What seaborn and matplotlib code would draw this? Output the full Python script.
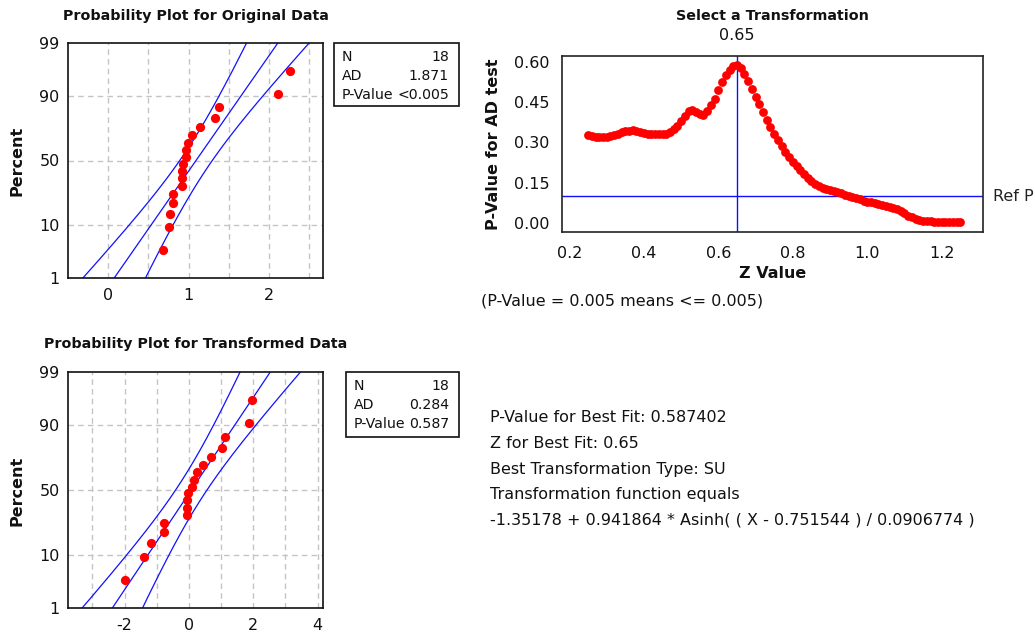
import numpy as np
import pandas as pd
import matplotlib
matplotlib.use("Agg")
import matplotlib.pyplot as plt
from matplotlib.patches import Rectangle
import seaborn as sns
from statistics import NormalDist

# ---------------- data ----------------
original_data = [0.684, 0.750, 0.762, 0.807, 0.807, 0.914, 0.914, 0.914, 0.931,
                 0.964, 0.964, 0.988, 1.038, 1.145, 1.326, 1.371, 2.105, 2.261]
transformed_data = [-1.98, -1.40, -1.18, -0.79, -0.79, -0.05, -0.05, -0.05, -0.02,
                    0.11, 0.16, 0.25, 0.43, 0.69, 1.04, 1.12, 1.88, 1.97]
orig_stats = [("N", "18"), ("AD", "1.871"), ("P-Value", "<0.005")]
trans_stats = [("N", "18"), ("AD", "0.284"), ("P-Value", "0.587")]

z_values = np.round(np.arange(0.25, 1.2501, 0.01), 2)
p_values = [0.328, 0.324, 0.321, 0.319, 0.319, 0.321, 0.325, 0.329, 0.333, 0.337,
            0.341, 0.344, 0.345, 0.344, 0.340, 0.336, 0.333, 0.331, 0.330, 0.330,
            0.330, 0.333, 0.340, 0.348, 0.360, 0.378, 0.397, 0.418, 0.422, 0.413,
            0.404, 0.402, 0.418, 0.440, 0.462, 0.495, 0.525, 0.552, 0.568, 0.582,
            0.587, 0.575, 0.555, 0.528, 0.497, 0.468, 0.442, 0.412, 0.384, 0.357,
            0.332, 0.308, 0.285, 0.264, 0.245, 0.228, 0.212, 0.197, 0.182, 0.167,
            0.155, 0.146, 0.138, 0.132, 0.127, 0.124, 0.120, 0.116, 0.111, 0.106,
            0.101, 0.097, 0.092, 0.088, 0.084, 0.080, 0.077, 0.074, 0.071, 0.067,
            0.063, 0.060, 0.057, 0.053, 0.045, 0.036, 0.028, 0.021, 0.015, 0.011,
            0.009, 0.008, 0.007, 0.006, 0.005, 0.005, 0.005, 0.005, 0.005, 0.005,
            0.005]
best_z = 0.65
ref_p = 0.10
percent_ticks = [1, 10, 50, 90, 99]

info_lines = ["P-Value for Best Fit: 0.587402",
              "Z for Best Fit: 0.65",
              "Best Transformation Type: SU",
              "Transformation function equals",
              "-1.35178 + 0.941864 * Asinh( ( X - 0.751544 ) / 0.0906774 )"]

# ---------------- style ----------------
sns.set_style("white")
plt.rcParams["font.family"] = ["DejaVu Sans"]
plt.rcParams["axes.linewidth"] = 1.2

W, H = 1035, 634
fig = plt.figure(figsize=(W / 100, H / 100), dpi=100)


def fx(x):
    return x / W


def fy(y):
    return 1 - y / H


def add_ax(l, t, r, b):
    return fig.add_axes([fx(l), fy(b), (r - l) / W, (b - t) / H])


nd = NormalDist()
GRID = dict(color="#c4c4c4", linestyle=(0, (4, 3)), linewidth=1.0)
TICKFS = 11.5
TXT = "#111111"


def prob_plot(ax, data, xlim, grid_x, label_x):
    data = np.sort(np.asarray(data, dtype=float))
    n = len(data)
    ranks = np.arange(1, n + 1)
    zq = np.array([nd.inv_cdf((i - 0.3) / (n + 0.4)) for i in ranks])
    mu, sd = data.mean(), data.std(ddof=1)

    zlo, zhi = nd.inv_cdf(0.01), nd.inv_cdf(0.99)
    for gx in grid_x:
        ax.axvline(gx, zorder=0, **GRID)
    for p in [10, 50, 90]:
        ax.axhline(nd.inv_cdf(p / 100), zorder=0, **GRID)

    zz = np.linspace(zlo - 0.3, zhi + 0.3, 200)
    fit = mu + zz * sd
    half = 1.96 * sd * np.sqrt(1 / n + zz ** 2 / (2 * n))
    lines = pd.DataFrame({"z": np.tile(zz, 3),
                          "x": np.concatenate([fit, fit - half, fit + half]),
                          "which": np.repeat(["fit", "lo", "hi"], len(zz))})
    sns.lineplot(data=lines, x="x", y="z", units="which", estimator=None, sort=False,
                 color="#1010ff", linewidth=0.9, ax=ax, legend=False)
    pts = pd.DataFrame({"x": data, "z": zq})
    sns.scatterplot(data=pts, x="x", y="z", color="#ff0000", s=44, linewidth=0,
                    ax=ax, zorder=5, legend=False)

    ax.set_xlim(*xlim)
    ax.set_ylim(zlo, zhi)
    ax.set_yticks([nd.inv_cdf(p / 100) for p in percent_ticks])
    ax.set_yticklabels([str(p) for p in percent_ticks])
    ax.set_xticks(label_x)
    ax.set_xticklabels([str(v) for v in label_x])
    ax.tick_params(axis="both", length=0, labelsize=TICKFS, colors=TXT)
    ax.tick_params(axis="x", pad=7)
    ax.tick_params(axis="y", pad=6)
    ax.set_xlabel("")
    ax.set_ylabel("")
    for s in ax.spines.values():
        s.set_color(TXT)
        s.set_linewidth(1.2)


# ---- top-left ----
ax1 = add_ax(68, 43, 323, 278)
prob_plot(ax1, original_data, (-0.5, 2.67), [0, 0.5, 1, 1.5, 2, 2.5], [0, 1, 2])
fig.text(fx(195.5), fy(16), "Probability Plot for Original Data", ha="center", va="center",
         fontsize=10.3, fontweight="bold", color=TXT)
fig.text(fx(17), fy(161), "Percent", rotation=90, ha="center", va="center",
         fontsize=11.5, fontweight="bold", color=TXT)

# ---- bottom-left ----
ax2 = add_ax(68, 372, 323, 608)
prob_plot(ax2, transformed_data, (-3.76, 4.17), [-3, -2, -1, 0, 1, 2, 3, 4], [-2, 0, 2, 4])
fig.text(fx(195.5), fy(344), "Probability Plot for Transformed Data", ha="center", va="center",
         fontsize=10.3, fontweight="bold", color=TXT)
fig.text(fx(17), fy(491), "Percent", rotation=90, ha="center", va="center",
         fontsize=11.5, fontweight="bold", color=TXT)


def stats_box(l, t, r, b, rows, text_l, text_r, row_y):
    fig.patches.append(Rectangle((fx(l), fy(b)), (r - l) / W, (b - t) / H, transform=fig.transFigure,
                                 fill=False, edgecolor=TXT, linewidth=1.2))
    for (k, v), y in zip(rows, row_y):
        fig.text(fx(text_l), fy(y), k, ha="left", va="center", fontsize=10.2, color=TXT)
        fig.text(fx(text_r), fy(y), v, ha="right", va="center", fontsize=10.2, color=TXT)


stats_box(334, 43, 459, 106, orig_stats, 342, 449, [57, 76, 95])
stats_box(346, 372, 459, 437, trans_stats, 354, 449, [386, 405, 424])

# ---- top-right: Select a Transformation ----
ax3 = add_ax(562, 56, 983, 232)
curve = pd.DataFrame({"z": z_values, "p": p_values})
sns.scatterplot(data=curve, x="z", y="p", color="#ff0000", s=40, linewidth=0, ax=ax3,
                legend=False, zorder=3)
ax3.axvline(best_z, color="#1010ff", linewidth=1.0, zorder=2)
ax3.axhline(ref_p, color="#1010ff", linewidth=1.0, zorder=2)
ax3.set_xlim(0.18, 1.311)
ax3.set_ylim(-0.033, 0.621)
ax3.set_xticks([0.2, 0.4, 0.6, 0.8, 1.0, 1.2])
ax3.set_xticklabels([f"{v:.1f}" for v in [0.2, 0.4, 0.6, 0.8, 1.0, 1.2]])
ax3.set_yticks([0.0, 0.15, 0.30, 0.45, 0.60])
ax3.set_yticklabels([f"{v:.2f}" for v in [0.0, 0.15, 0.30, 0.45, 0.60]])
ax3.tick_params(axis="both", direction="out", length=5, width=1, labelsize=TICKFS,
                colors=TXT)
ax3.tick_params(axis="y", pad=4)
ax3.tick_params(axis="x", pad=5)
ax3.set_xlabel("Z Value", fontsize=11.5, fontweight="bold", color=TXT, labelpad=4)
ax3.set_ylabel("")
fig.text(fx(493), fy(144), "P-Value for AD test", rotation=90, ha="center", va="center",
         fontsize=11.5, fontweight="bold", color=TXT)
for s in ax3.spines.values():
    s.set_color("#222222")
    s.set_linewidth(1.2)
ax3.annotate(f"{best_z:.2f}", xy=(best_z, 1.0), xycoords=("data", "axes fraction"),
             xytext=(0, 9), textcoords="offset points", ha="center", va="bottom",
             fontsize=TICKFS, color=TXT)
fig.text(fx(993), fy(196), "Ref P", ha="left", va="center", fontsize=TICKFS, color="#222222")
fig.text(fx(772), fy(16), "Select a Transformation", ha="center", va="center",
         fontsize=10.3, fontweight="bold", color=TXT)
fig.text(fx(481), fy(301), "(P-Value = 0.005 means <= 0.005)", ha="left", va="center",
         fontsize=11.5, color=TXT)

# ---- info text ----
for i, line in enumerate(info_lines):
    fig.text(fx(490), fy(418 + i * 25.6), line, ha="left", va="center", fontsize=11.5,
             color=TXT)

fig.savefig("out.png", dpi=100, facecolor="white")
